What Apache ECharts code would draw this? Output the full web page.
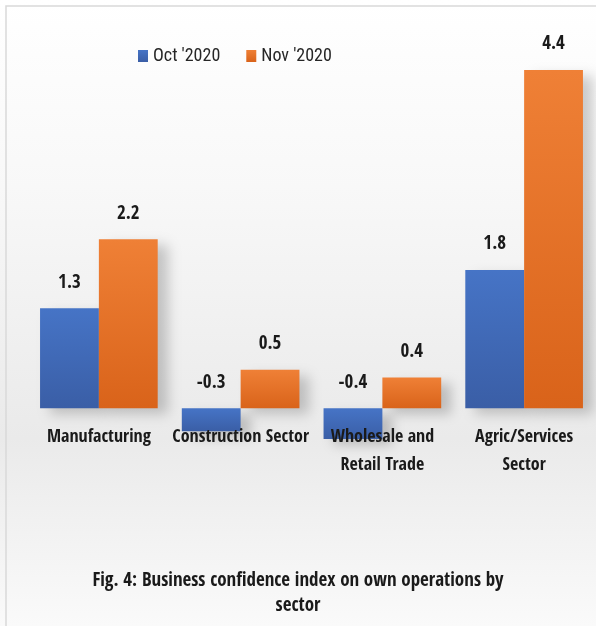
<!DOCTYPE html>
<html>
<head>
<meta charset="utf-8">
<script src="https://cdn.jsdelivr.net/npm/echarts@6/dist/echarts.min.js"></script>
<style>
html,body{margin:0;padding:0;background:#fff;}
#chart{width:596px;height:626px;}
</style>
</head>
<body>
<div id="chart"></div>
<script>
const categories = ['Manufacturing', 'Construction Sector', 'Wholesale and\nRetail Trade', 'Agric/Services\nSector'];
const seriesNames = ["Oct '2020", "Nov '2020"];
const octValues = [1.3, -0.3, -0.4, 1.8];
const novValues = [2.2, 0.5, 0.4, 4.4];
const titleText = 'Fig. 4: Business confidence index on own operations by\nsector';

const FONT = '"Open Sans Condensed", "Roboto Condensed", "Liberation Sans Narrow", sans-serif';
const FONT_REG = '"Roboto Condensed", "Open Sans Condensed", "Liberation Sans Narrow", sans-serif';

const chart = echarts.init(document.getElementById('chart'), null, {renderer: 'canvas'});

function grad(c1, c2) {
  return new echarts.graphic.LinearGradient(0, 0, 0, 1, [
    {offset: 0, color: c1}, {offset: 1, color: c2}
  ]);
}

const shadow = {shadowColor: 'rgba(0,0,0,0.2)', shadowBlur: 12, shadowOffsetX: 10, shadowOffsetY: 6};

chart.setOption({
  animation: false,
  backgroundColor: new echarts.graphic.LinearGradient(0, 0, 0, 1, [
    {offset: 0, color: '#ffffff'},
    {offset: 0.3, color: '#f8f8f8'},
    {offset: 0.7, color: '#eaeaea'},
    {offset: 1, color: '#fafafa'}
  ]),
  graphic: [{
    type: 'rect',
    shape: {x: 6, y: 6, width: 600, height: 640},
    style: {fill: 'none', stroke: '#d9d9d9', lineWidth: 1.5},
    silent: true
  }],
  title: {
    text: titleText,
    left: 'center',
    top: 564,
    textStyle: {fontFamily: FONT, fontSize: 19, fontWeight: 'bold', color: '#1a1a1a', lineHeight: 25}
  },
  legend: {
    data: seriesNames,
    top: 42,
    left: 133,
    itemWidth: 10,
    itemHeight: 12,
    itemGap: 26,
    icon: 'rect',
    textStyle: {fontFamily: FONT_REG, fontSize: 18, fontWeight: 'normal', color: '#262626'}
  },
  grid: {left: 28, right: 1, top: 70, bottom: 187, containLabel: false},
  xAxis: {
    type: 'category',
    data: categories,
    z: 10,
    axisLine: {show: false, onZero: true},
    axisTick: {show: false},
    axisLabel: {
      fontFamily: FONT, fontSize: 18, fontWeight: 'bold', color: '#1a1a1a',
      margin: -16, lineHeight: 28, interval: 0
    }
  },
  yAxis: {
    type: 'value',
    min: -0.4,
    max: 4.4,
    show: false,
    splitLine: {show: false}
  },
  series: [{
    name: seriesNames[0],
    type: 'bar',
    data: octValues,
    barGap: '0%',
    barCategoryGap: '17%',
    itemStyle: Object.assign({color: grad('#4674c6', '#3a5ea6')}, shadow),
    label: {
      show: true, position: 'top', distance: 16,
      fontFamily: FONT, fontSize: 19, fontWeight: 'bold', color: '#1a1a1a'
    }
  }, {
    name: seriesNames[1],
    type: 'bar',
    data: novValues,
    itemStyle: Object.assign({color: grad('#ef8036', '#d9631a')}, shadow),
    label: {
      show: true, position: 'top', distance: 16,
      fontFamily: FONT, fontSize: 19, fontWeight: 'bold', color: '#1a1a1a'
    }
  }],
  color: ['#4472C4', '#ED7D31']
});
</script>
</body>
</html>
